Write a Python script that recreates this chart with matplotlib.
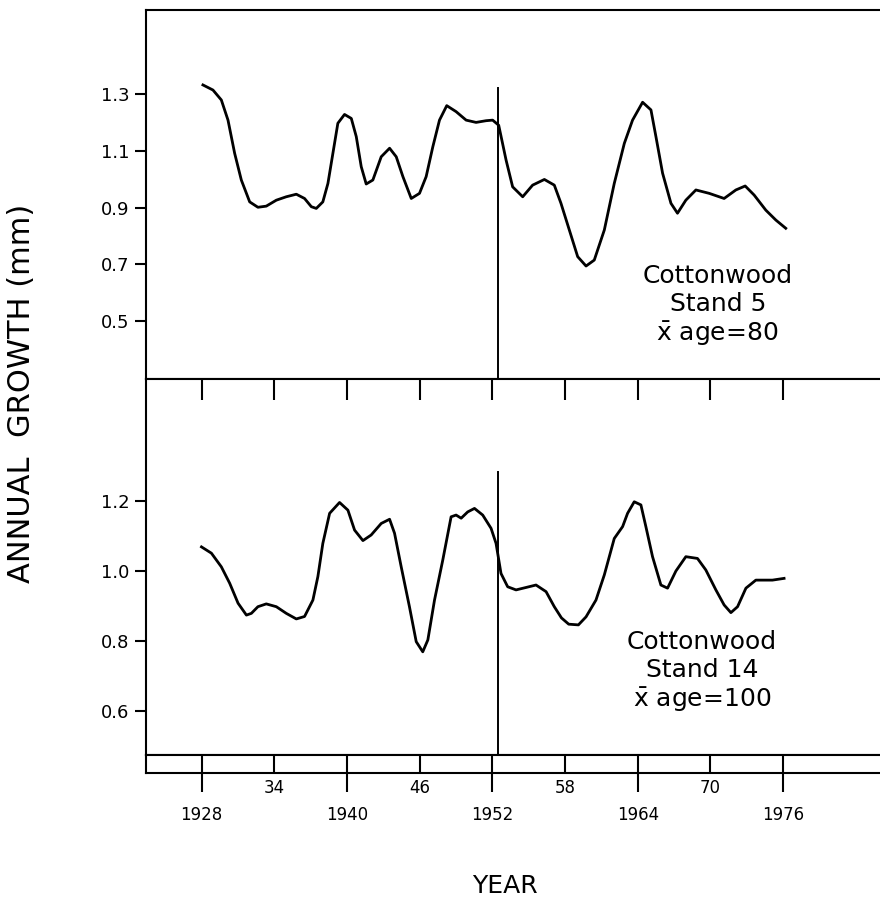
import matplotlib.pyplot as plt

# top panel: Cottonwood Stand 5 (years, growth in mm)
stand5_years = [1928.1, 1928.93, 1929.62, 1930.17, 1930.72, 1931.27, 1931.96, 1932.64, 1933.33,
                1934.16, 1934.98, 1935.81, 1936.49, 1937.05, 1937.46, 1938.0, 1938.42, 1938.83,
                1939.24, 1939.79, 1940.35, 1940.76, 1941.17, 1941.58, 1942.13, 1942.82, 1943.51,
                1944.06, 1944.61, 1945.3, 1945.98, 1946.53, 1947.08, 1947.63, 1948.23, 1949.0,
                1949.83, 1950.65, 1951.48, 1952.02, 1952.52, 1953.13, 1953.67, 1954.5, 1955.32,
                1956.29, 1957.11, 1957.66, 1958.35, 1959.04, 1959.73, 1960.41, 1961.24, 1962.06,
                1962.89, 1963.57, 1964.4, 1965.09, 1965.5, 1966.05, 1966.74, 1967.28, 1967.97,
                1968.8, 1969.9, 1971.13, 1972.1, 1972.87, 1973.61, 1974.57, 1975.4, 1976.22]
stand5_growth = [1.332, 1.314, 1.279, 1.208, 1.091, 0.997, 0.920, 0.901, 0.905,
                 0.926, 0.938, 0.947, 0.932, 0.903, 0.897, 0.920, 0.985, 1.091,
                 1.197, 1.228, 1.214, 1.150, 1.044, 0.983, 0.997, 1.079, 1.109,
                 1.079, 1.009, 0.932, 0.950, 1.009, 1.114, 1.208, 1.259, 1.238,
                 1.208, 1.200, 1.206, 1.208, 1.190, 1.067, 0.973, 0.938, 0.979,
                 0.999, 0.979, 0.915, 0.821, 0.727, 0.694, 0.715, 0.821, 0.985,
                 1.126, 1.208, 1.271, 1.244, 1.150, 1.021, 0.915, 0.880, 0.926,
                 0.962, 0.950, 0.932, 0.962, 0.976, 0.944, 0.891, 0.856, 0.827]

# bottom panel: Cottonwood Stand 14
stand14_years = [1927.98, 1928.8, 1929.62, 1930.31, 1931.0, 1931.69, 1932.1, 1932.64, 1933.33,
                 1934.16, 1934.98, 1935.81, 1936.49, 1937.18, 1937.59, 1938.0, 1938.56, 1939.38,
                 1940.07, 1940.62, 1941.31, 1941.99, 1942.82, 1943.51, 1943.92, 1944.47, 1945.15,
                 1945.71, 1946.25, 1946.67, 1947.22, 1947.9, 1948.59, 1949.0, 1949.42, 1949.96,
                 1950.52, 1951.2, 1951.89, 1952.3, 1952.71, 1953.26, 1953.95, 1954.78, 1955.6,
                 1956.43, 1957.11, 1957.7, 1958.3, 1959.1, 1959.73, 1960.55, 1961.24, 1962.06,
                 1962.75, 1963.16, 1963.71, 1964.26, 1964.67, 1965.22, 1965.91, 1966.46, 1967.15,
                 1967.97, 1968.93, 1969.62, 1970.45, 1971.13, 1971.69, 1972.24, 1972.93, 1973.75,
                 1974.43, 1975.12, 1976.08]
stand14_growth = [1.069, 1.051, 1.012, 0.965, 0.908, 0.874, 0.879, 0.898, 0.906,
                  0.898, 0.879, 0.863, 0.870, 0.917, 0.984, 1.079, 1.165, 1.196,
                  1.174, 1.117, 1.087, 1.103, 1.136, 1.148, 1.108, 1.012, 0.898,
                  0.798, 0.769, 0.803, 0.917, 1.031, 1.155, 1.160, 1.151, 1.169,
                  1.179, 1.160, 1.122, 1.079, 0.993, 0.955, 0.946, 0.953, 0.960,
                  0.941, 0.898, 0.866, 0.848, 0.846, 0.869, 0.917, 0.989, 1.093,
                  1.127, 1.165, 1.198, 1.189, 1.127, 1.041, 0.960, 0.951, 1.000,
                  1.041, 1.036, 1.003, 0.946, 0.903, 0.881, 0.898, 0.951, 0.974,
                  0.974, 0.974, 0.979]

divide_year = 1952.45

top_yticks = [0.5, 0.7, 0.9, 1.1, 1.3]
bottom_yticks = [0.6, 0.8, 1.0, 1.2]
major_years = [1928, 1940, 1952, 1964, 1976]
minor_years = [1934, 1946, 1958, 1970]
major_labels = ['1928', '1940', '1952', '1964', '1976']
minor_labels = ['34', '46', '58', '70']

top_text = 'Cottonwood\nStand 5\n$\\bar{\\mathrm{x}}$ age=80'
bottom_text = 'Cottonwood\nStand 14\n$\\bar{\\mathrm{x}}$ age=100'

plt.rcParams['font.family'] = 'DejaVu Sans'
plt.rcParams['mathtext.fontset'] = 'dejavusans'

W, H = 880, 901
fig = plt.figure(figsize=(W / 100, H / 100), dpi=100)

left = 146 / W
width = 1 - left
xlim = (1923.4, 1984.0)
lw = 1.5
curve_lw = 2.0
tick_fs = 13
year_fs = 12

ax1 = fig.add_axes([left, 1 - 379 / H, width, 369 / H])
ax2 = fig.add_axes([left, 1 - 755 / H, width, 376 / H])
ax3 = fig.add_axes([left, 1 - 773 / H, width, 18 / H])

for ax in (ax1, ax2, ax3):
    ax.set_xlim(*xlim)
    ax.spines['right'].set_visible(False)
    for s in ('top', 'left', 'bottom'):
        ax.spines[s].set_linewidth(lw)

# top panel
ax1.plot(stand5_years, stand5_growth, color='black', lw=curve_lw, solid_joinstyle='round')
ax1.plot([divide_year, divide_year], [1.32, 0.2], color='black', lw=1.4)
ax1.set_ylim(0.296, 1.596)
ax1.set_yticks(top_yticks)
ax1.set_yticklabels([f'{v:.1f}' for v in top_yticks])
ax1.set_xticks([])
ax1.tick_params(axis='y', direction='out', length=8, width=lw, labelsize=tick_fs, pad=4)
ax1.text(1970.6, 0.553, top_text, ha='center', va='center', multialignment='center',
         fontsize=18, linespacing=1.2)

# bottom panel
ax2.plot(stand14_years, stand14_growth, color='black', lw=curve_lw, solid_joinstyle='round')
ax2.plot([divide_year, divide_year], [1.284, 0.3], color='black', lw=1.4)
ax2.set_ylim(0.474, 1.549)
ax2.set_yticks(bottom_yticks)
ax2.set_yticklabels([f'{v:.1f}' for v in bottom_yticks])
ax2.tick_params(axis='y', direction='out', length=8, width=lw, labelsize=tick_fs, pad=4)
ax2.set_xticks(major_years + minor_years)
ax2.tick_params(axis='x', top=True, bottom=False, labeltop=False, labelbottom=False,
                direction='in', length=15, width=lw)
ax2.text(1969.3, 0.711, bottom_text, ha='center', va='center', multialignment='center',
         fontsize=18, linespacing=1.2)

# year strip
ax3.set_ylim(0, 1)
ax3.set_yticks([])
ax3.set_xticks(major_years)
ax3.set_xticklabels(major_labels)
ax3.set_xticks(minor_years, minor=True)
ax3.set_xticklabels(minor_labels, minor=True)
ax3.tick_params(axis='x', which='major', direction='inout', length=27, width=lw,
                labelsize=year_fs, pad=10)
ax3.tick_params(axis='x', which='minor', direction='in', length=13, width=lw,
                labelsize=year_fs, pad=4)

fig.text(22 / W, 1 - 393 / H, 'ANNUAL  GROWTH (mm)', rotation=90, ha='center', va='center',
         fontsize=22)
fig.text(505 / W, 1 - 886 / H, 'YEAR', ha='center', va='center', fontsize=18)

fig.savefig('out.png', dpi=100)
